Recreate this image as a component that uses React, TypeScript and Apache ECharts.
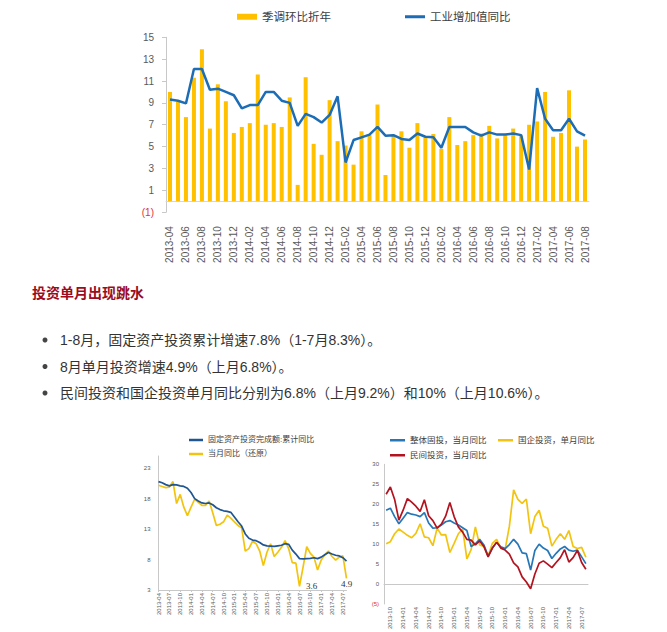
import React, { useEffect, useRef } from "react";
import * as echarts from "echarts";

const months = [
  "2013-04", "2013-05", "2013-06", "2013-07", "2013-08", "2013-09", "2013-10", "2013-11", "2013-12",
  "2014-01", "2014-02", "2014-03", "2014-04", "2014-05", "2014-06", "2014-07", "2014-08", "2014-09", "2014-10", "2014-11", "2014-12",
  "2015-01", "2015-02", "2015-03", "2015-04", "2015-05", "2015-06", "2015-07", "2015-08", "2015-09", "2015-10", "2015-11", "2015-12",
  "2016-01", "2016-02", "2016-03", "2016-04", "2016-05", "2016-06", "2016-07", "2016-08", "2016-09", "2016-10", "2016-11", "2016-12",
  "2017-01", "2017-02", "2017-03", "2017-04", "2017-05", "2017-06", "2017-07", "2017-08",
];

// Top chart
const seasonalAnnualized = [
  10.0, 9.1, 7.7, 11.3, 13.9, 6.65, 10.7, 9.15, 6.25,
  6.8, 7.15, 11.6, 7.0, 7.15, 6.8, 9.5, 1.5, 11.35, 5.25, 4.25, 9.25,
  5.5, 5.1, 3.35, 6.4, 6.05, 8.85, 2.4, 6.0, 6.4, 4.9, 7.15, 5.85,
  6.15, 4.8, 7.7, 5.15, 5.5, 6.05, 6.2, 6.9, 5.75, 6.05, 6.65, 6.0,
  7.0, 7.3, 10.0, 5.9, 6.25, 10.15, 5.0, 5.65,
];
const industrialYoY = [
  9.3, 9.2, 8.95, 12.1, 12.1, 10.2, 10.3, 10.0, 9.7,
  8.5, 8.8, 8.8, 10.0, 10.0, 9.2, 9.0, 6.9, 8.0, 7.7, 7.2, 7.9,
  9.6, 3.55, 5.6, 5.85, 6.1, 6.8, 6.0, 6.05, 5.7, 5.6, 6.2, 5.9,
  5.85, 4.9, 6.8, 6.8, 6.8, 6.3, 6.0, 6.3, 6.1, 6.1, 6.2, 6.05,
  2.9, 10.35, 7.55, 6.5, 6.5, 7.55, 6.4, 6.0,
];

// Bottom-left chart
const faiCumulative = [
  20.8, 20.6, 20.3, 20.1, 20.3, 20.25, 20.1, 20.0, 19.7,
  19.0, 18.0, 17.6, 17.3, 17.2, 17.3, 17.0, 16.5, 16.2, 16.0, 15.9, 15.75,
  15.0, 14.2, 13.5, 12.2, 11.5, 11.2, 11.1, 10.8, 10.4, 10.25, 10.2, 10.15,
  10.25, 10.35, 10.6, 10.5, 9.55, 8.9, 8.15, 8.1, 8.15, 8.2, 8.3, 8.15,
  8.4, 8.8, 9.15, 8.9, 8.7, 8.6, 8.3, 7.75,
];
const faiMonthly = [
  20.2, 20.0, 19.8, 19.9, 20.8, 17.2, 18.7, 16.6, 15.2,
  16.6, 17.9, 17.4, 16.9, 16.9, 17.6, 15.7, 13.6, 13.8, 14.2, 15.3, 14.8,
  14.2, 13.6, 13.2, 9.4, 9.8, 11.0, 10.6, 9.4, 7.0, 9.2, 10.6, 8.5,
  9.2, 10.0, 11.1, 9.8, 7.5, 7.4, 3.6, 6.8, 10.1, 9.0, 8.4, 6.3,
  7.9, 8.8, 9.4, 8.5, 7.9, 8.4, 8.6, 4.9,
];
const faiNotedMonths = ["2016-07", "2017-08"];

// Bottom-right chart (2013-09 .. 2017-08)
const brMonths = months.slice(5);
const totalMonthly = [
  18.5, 19.0, 16.9, 15.1, 16.5, 17.9, 17.5, 17.3, 16.9, 17.9,
  15.3, 14.0, 14.1, 14.8, 15.6, 15.9, 15.3, 14.8, 14.1, 13.4,
  9.4, 10.1, 11.2, 9.8, 7.0, 9.0, 10.4, 9.3, 8.9, 9.9,
  11.2, 10.0, 7.8, 7.6, 3.5, 8.4, 10.0, 9.0, 8.4, 6.4,
  7.7, 8.8, 9.4, 8.5, 8.2, 8.5, 6.8, 5.1,
];
const soeMonthly = [
  10.1, 10.6, 12.6, 13.8, 13.0, 12.2, 11.6, 12.7, 15.1, 11.8,
  11.6, 9.6, 14.0, 12.3, 12.4, 7.9, 10.2, 12.6, 13.8, 6.3,
  8.6, 14.3, 9.8, 9.4, 7.0, 10.2, 11.2, 9.0, 8.7, 14.5,
  23.6, 21.2, 20.2, 21.3, 12.6, 16.9, 18.5, 14.5, 14.0, 9.5,
  11.2, 12.6, 11.2, 13.4, 9.4, 8.9, 9.2, 6.7,
];
const privateMonthly = [
  22.5, 24.3, 21.2, 16.0, 18.5, 21.4, 20.5, 19.5, 18.2, 21.1,
  17.1, 15.9, 14.0, 15.0, 17.0, 20.4, 16.9, 14.3, 13.0, 11.2,
  11.0, 9.8, 10.8, 9.4, 6.8, 9.0, 10.5, 9.0, 8.5, 7.5,
  5.3, 4.3, 1.8, 0.5, -1.2, 2.5, 5.2, 5.8, 5.0, 4.1,
  5.4, 6.6, 8.6, 5.5, 6.6, 8.4, 5.4, 3.7,
];

const articleTitle = "投资单月出现跳水";
const bulletLines = [
  "1-8月，固定资产投资累计增速7.8%（1-7月8.3%）。",
  "8月单月投资增速4.9%（上月6.8%）。",
  "民间投资和国企投资单月同比分别为6.8%（上月9.2%）和10%（上月10.6%）。",
];

const FONT = "'Liberation Sans', 'Noto Sans CJK SC', sans-serif";
const AXIS = "#c8c8c8";
const LABEL = "#595959";
const NEG = "#e0303a";

const negFormatter = (v: number) => (v < 0 ? `{neg|(${-v})}` : String(v));

const lg = (name: string, left: number, top: number, w: number, h: number, fs: number) => ({
  data: [{ name, icon: "rect" }],
  left, top, itemWidth: w, itemHeight: h, padding: 0,
  selectedMode: false,
  textStyle: { fontSize: fs, color: "#404040", fontFamily: FONT },
});

export default function App() {
  const ref = useRef<HTMLDivElement>(null);
  useEffect(() => {
    if (!ref.current) return;
    const chart = echarts.init(ref.current, undefined, { renderer: "svg" });
    const option: any = {
      animation: false,
      backgroundColor: "#ffffff",
      textStyle: { fontFamily: FONT },
      legend: [
        lg("季调环比折年", 237, 11, 20, 6, 11.5),
        lg("工业增加值同比", 405, 11, 20, 3, 11.5),
        lg("固定资产投资完成额:累计同比", 189, 436, 14, 2.5, 8),
        lg("当月同比（还原）", 189, 450, 14, 2.5, 8),
        lg("整体固投，当月同比", 390, 436, 15, 2.5, 8.5),
        lg("国企投资，单月同比", 498, 436, 15, 2.5, 8.5),
        lg("民间投资，当月同比", 390, 451, 15, 2.5, 8.5),
      ],
      grid: [
        { left: 166, top: 37.3, width: 423, height: 174.9 },
        { left: 158.5, top: 456, width: 188, height: 134 },
        { left: 384, top: 464.3, width: 204, height: 148.4 },
      ],
      xAxis: [
        {
          type: "category", gridIndex: 0, data: months, boundaryGap: true,
          axisLine: { onZero: true, lineStyle: { color: "#d6d6d6" } },
          axisTick: { show: false },
          axisLabel: { rotate: 90, interval: 1, fontSize: 10, color: LABEL, margin: 14 },
        },
        {
          type: "category", gridIndex: 1, data: months, boundaryGap: false,
          axisLine: { onZero: false, lineStyle: { color: AXIS } },
          axisTick: { show: true, interval: 2, length: 2, lineStyle: { color: AXIS } },
          axisLabel: { rotate: 90, interval: 2, fontSize: 6, color: LABEL, margin: 3 },
        },
        {
          type: "category", gridIndex: 2, data: brMonths, boundaryGap: true,
          axisLine: { onZero: true, lineStyle: { color: AXIS } },
          axisTick: { show: false },
          axisLabel: {
            rotate: 90, fontSize: 6, color: LABEL, margin: 3,
            interval: (i: number) => i % 3 === 1,
          },
        },
      ],
      yAxis: [
        {
          type: "value", gridIndex: 0, min: -1, max: 15, interval: 2,
          splitLine: { show: false },
          axisLine: { show: true, lineStyle: { color: AXIS } },
          axisTick: { show: true, length: 4, lineStyle: { color: AXIS } },
          axisLabel: {
            fontSize: 10, color: LABEL, margin: 12, formatter: negFormatter,
            rich: { neg: { color: NEG, fontSize: 10 } },
          },
        },
        {
          type: "value", gridIndex: 1, min: 3, max: 25, interval: 5,
          splitLine: { show: false },
          axisLine: { show: true, lineStyle: { color: AXIS } },
          axisTick: { show: false },
          axisLabel: { fontSize: 6, color: LABEL, margin: 8, showMaxLabel: false },
        },
        {
          type: "value", gridIndex: 2, min: -5, max: 30, interval: 5,
          splitLine: { show: false },
          axisLine: { show: true, lineStyle: { color: AXIS } },
          axisTick: { show: false },
          axisLabel: {
            fontSize: 6, color: LABEL, margin: 5, formatter: negFormatter,
            rich: { neg: { color: NEG, fontSize: 6 } },
          },
        },
      ],
      series: [
        {
          name: "季调环比折年", type: "bar", xAxisIndex: 0, yAxisIndex: 0,
          data: seasonalAnnualized, barWidth: 4,
          itemStyle: { color: "#FFC000" },
        },
        {
          name: "工业增加值同比", type: "line", xAxisIndex: 0, yAxisIndex: 0,
          data: industrialYoY, symbol: "none",
          lineStyle: { color: "#1C6DB5", width: 2.5 }, itemStyle: { color: "#1C6DB5" },
        },
        {
          name: "当月同比（还原）", type: "line", xAxisIndex: 1, yAxisIndex: 1,
          data: faiMonthly, symbol: "none",
          lineStyle: { color: "#F2C40F", width: 1.7 }, itemStyle: { color: "#F2C40F" },
          markPoint: {
            symbol: "circle", symbolSize: 1,
            itemStyle: { color: "rgba(0,0,0,0)" },
            data: faiNotedMonths.map((m) => {
              const idx = months.indexOf(m);
              const last = idx === months.length - 1;
              return {
                coord: [m, faiMonthly[idx]],
                value: faiMonthly[idx],
                label: {
                  show: true,
                  position: last ? "bottom" : "right",
                  distance: last ? 1 : 6,
                  formatter: "{c}", fontSize: 9, color: "#333",
                  fontFamily: "'Liberation Serif', serif",
                },
              };
            }),
          },
        },
        {
          name: "固定资产投资完成额:累计同比", type: "line", xAxisIndex: 1, yAxisIndex: 1,
          data: faiCumulative, symbol: "none",
          lineStyle: { color: "#1F5592", width: 1.7 }, itemStyle: { color: "#1F5592" },
        },
        {
          name: "国企投资，单月同比", type: "line", xAxisIndex: 2, yAxisIndex: 2,
          data: soeMonthly, symbol: "none",
          lineStyle: { color: "#F2C40F", width: 1.7 }, itemStyle: { color: "#F2C40F" },
        },
        {
          name: "整体固投，当月同比", type: "line", xAxisIndex: 2, yAxisIndex: 2,
          data: totalMonthly, symbol: "none",
          lineStyle: { color: "#2677B8", width: 1.7 }, itemStyle: { color: "#2677B8" },
        },
        {
          name: "民间投资，当月同比", type: "line", xAxisIndex: 2, yAxisIndex: 2,
          data: privateMonthly, symbol: "none",
          lineStyle: { color: "#B3121F", width: 1.7 }, itemStyle: { color: "#B3121F" },
        },
      ],
      graphic: [
        {
          type: "text", x: 32, y: 293,
          style: {
            text: articleTitle, fill: "#9c0b20", verticalAlign: "middle",
            font: `bold 14px ${FONT}`,
          },
        },
        ...bulletLines.flatMap((t, i) => [
          {
            type: "circle", shape: { cx: 45, cy: 340 + i * 26.5, r: 2.5 },
            style: { fill: "#444" },
          },
          {
            type: "text", x: 60, y: 340 + i * 26.5,
            style: { text: t, fill: "#333", verticalAlign: "middle", font: `14px ${FONT}` },
          },
        ]),
      ],
    };
    chart.setOption(option);
    return () => chart.dispose();
  }, []);
  return (
    <div
      ref={ref}
      style={{ position: "absolute", left: 0, top: 0, width: 667, height: 632, background: "#fff" }}
    />
  );
}
